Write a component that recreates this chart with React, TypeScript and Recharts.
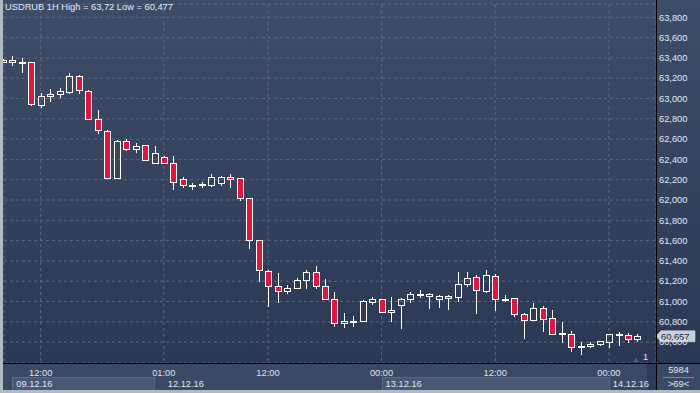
import React from 'react';
import { ComposedChart, Bar, XAxis, YAxis, CartesianGrid, ReferenceLine } from 'recharts';

// ---- data (USDRUB, 1H candles) ----
const opens = [
  63.360, 63.376, 63.355, 63.357, 62.933, 63.022, 63.041, 63.067, 63.222, 63.071,
  62.795, 62.683, 62.214, 62.581, 62.505, 62.539, 62.362, 62.421, 62.362, 62.204,
  62.150, 62.145, 62.151, 62.170, 62.224, 62.214, 62.017, 61.603, 61.297, 61.150,
  61.100, 61.130, 61.209, 61.288, 61.150, 61.022, 60.785, 60.810, 60.808, 60.998,
  61.022, 60.894, 60.963, 61.022, 61.075, 61.058, 61.028, 61.051, 61.041, 61.170,
  61.238, 61.106, 61.251, 61.025, 61.032, 60.874, 60.821, 60.933, 60.834, 60.683,
  60.677, 60.555, 60.559, 60.578, 60.604, 60.677, 60.667, 60.634,
];
const highs = [
  63.385, 63.419, 63.399, 63.362, 63.051, 63.094, 63.103, 63.248, 63.234, 63.084,
  62.887, 62.690, 62.591, 62.601, 62.559, 62.545, 62.532, 62.430, 62.433, 62.224,
  62.170, 62.177, 62.256, 62.236, 62.256, 62.220, 62.020, 61.610, 61.310, 61.281,
  61.163, 61.232, 61.310, 61.350, 61.219, 61.091, 60.887, 60.854, 61.010, 61.044,
  61.028, 61.044, 61.034, 61.094, 61.110, 61.087, 61.067, 61.067, 61.288, 61.288,
  61.258, 61.310, 61.271, 61.061, 61.035, 60.890, 60.988, 60.956, 60.916, 60.798,
  60.709, 60.598, 60.598, 60.610, 60.683, 60.700, 60.687, 60.677,
];
const lows = [
  63.355, 63.323, 63.254, 62.929, 62.909, 62.968, 63.005, 63.047, 63.047, 62.793,
  62.647, 62.210, 62.208, 62.486, 62.466, 62.388, 62.358, 62.358, 62.099, 62.121,
  62.099, 62.118, 62.131, 62.141, 62.121, 61.993, 61.514, 61.189, 60.949, 60.988,
  61.077, 61.125, 61.126, 61.120, 61.015, 60.752, 60.742, 60.752, 60.798, 60.969,
  60.890, 60.801, 60.732, 60.982, 61.037, 60.929, 60.939, 60.916, 60.998, 61.140,
  60.880, 61.081, 60.909, 60.995, 60.851, 60.630, 60.815, 60.700, 60.680, 60.591,
  60.506, 60.473, 60.539, 60.565, 60.542, 60.562, 60.591, 60.604,
];
const closes = [
  63.378, 63.357, 63.360, 62.943, 63.022, 63.044, 63.074, 63.219, 63.081, 62.795,
  62.687, 62.214, 62.581, 62.505, 62.532, 62.391, 62.460, 62.362, 62.174, 62.145,
  62.152, 62.160, 62.224, 62.224, 62.204, 62.023, 61.603, 61.307, 61.150, 61.100,
  61.133, 61.209, 61.288, 61.150, 61.022, 60.785, 60.805, 60.812, 61.002, 61.022,
  60.894, 60.916, 61.022, 61.071, 61.078, 61.071, 61.051, 61.032, 61.170, 61.229,
  61.110, 61.261, 61.022, 61.020, 60.874, 60.821, 60.933, 60.828, 60.683, 60.686,
  60.555, 60.559, 60.581, 60.608, 60.680, 60.680, 60.634, 60.657,
];

const timeTickIdx = [4, 17, 28, 40, 52, 64];
const timeTickLabels = ['12:00', '01:00', '12:00', '00:00', '12:00', '00:00'];
const dateTickIdx = [1, 17, 40, 64];
const dateTickLabels = ['09.12.16', '12.12.16', '13.12.16', '14.12.16'];
const dateBoxEndIdx: (number | null)[] = [16, null, 64, null];
const priceTicks = [
  60.6, 60.8, 61.0, 61.2, 61.4, 61.6, 61.8, 62.0, 62.2,
  62.4, 62.6, 62.8, 63.0, 63.2, 63.4, 63.6, 63.8,
];
const yDomain = [60.394, 63.931];
const titleText = 'USDRUB 1H High = 63,72 Low = 60,477';
const barsTotal = '5984';
const barsVisible = '>69<';
const pageLabel = '1';

const data = opens.map((o, i) => ({
  idx: i,
  open: o,
  high: highs[i],
  low: lows[i],
  close: closes[i],
  range: [lows[i], highs[i]],
}));
const lastClose = closes[closes.length - 1];

const FONT = '"Liberation Sans", Arial, sans-serif';
const FS = 9.3;
const fmt = (v: number) => v.toFixed(3).replace('.', ',');

const Candle = (p: any) => {
  const { x, y, width, height, payload } = p;
  if (!payload || x == null || y == null || height == null) return <g />;
  const { open, close, high, low } = payload;
  const yTop = height >= 0 ? y : y + height;
  const h = Math.abs(height);
  const ppu = h / (high - low);
  const cx = Math.round(x + width / 2) + 0.5;
  const yO = yTop + (high - open) * ppu;
  const yC = yTop + (high - close) * ppu;
  const top = Math.round(Math.min(yO, yC)) + 0.5;
  const bot = Math.max(Math.round(Math.max(yO, yC)) + 0.5, top + 1);
  const bull = close >= open;
  const half = 3;
  return (
    <g shapeRendering="crispEdges">
      <line x1={cx} x2={cx} y1={Math.round(yTop)} y2={top} stroke="#ffffff" strokeWidth={1} />
      <line x1={cx} x2={cx} y1={bot} y2={Math.round(yTop + h)} stroke="#ffffff" strokeWidth={1} />
      <rect
        x={cx - half}
        y={top}
        width={half * 2}
        height={bot - top}
        fill={bull ? 'none' : '#e0163f'}
        stroke="#ffffff"
        strokeWidth={1}
      />
    </g>
  );
};

const TimeTick = (p: any) => {
  const { x, y, payload } = p;
  const k = timeTickIdx.indexOf(payload.value);
  if (k < 0) return <g />;
  return (
    <text x={x} y={y + 12.5} textAnchor="middle" fill="#dfe6f1" fontSize={FS} fontFamily={FONT}>
      {timeTickLabels[k]}
    </text>
  );
};

const DateTick = (p: any) => {
  const { x, y, payload } = p;
  const k = dateTickIdx.indexOf(payload.value);
  if (k < 0) return <g />;
  const band = payload.offset ? payload.offset * 2 : 9.47;
  const end = dateBoxEndIdx[k];
  return (
    <g>
      {end != null && (
        <rect
          x={Math.round(x) + 0.5}
          y={y + 0.5}
          width={Math.round((end - payload.value) * band)}
          height={14}
          fill="#4a5773"
          stroke="#5a6783"
          strokeWidth={1}
        />
      )}
      <text x={x + 4} y={y + 10} textAnchor="start" fill="#dfe6f1" fontSize={FS} fontFamily={FONT}>
        {dateTickLabels[k]}
      </text>
    </g>
  );
};

const PriceLabel = (p: any) => {
  const vb = p.viewBox || {};
  const x0 = (vb.x || 0) + (vb.width || 0);
  const y0 = vb.y || 0;
  const pts = `${x0},${y0} ${x0 + 5},${y0 - 5.5} ${x0 + 39},${y0 - 5.5} ${x0 + 39},${y0 + 5.5} ${x0 + 5},${y0 + 5.5}`;
  return (
    <g>
      <polygon points={pts} fill="#c9ced7" stroke="#e8ebf0" strokeWidth={0.5} />
      <text x={x0 + 5} y={y0 + 3.5} fill="#1f2738" fontSize={FS} fontFamily={FONT}>
        {fmt(lastClose)}
      </text>
    </g>
  );
};

export default function App() {
  return (
    <div
      style={{
        position: 'fixed',
        left: 0,
        top: 0,
        width: 700,
        height: 393,
        overflow: 'hidden',
        background: 'linear-gradient(180deg, #3e4c68 0%, #34425e 50%, #2b3854 92%)',
        fontFamily: FONT,
      }}
    >
      {/* bottom time-axis panel */}
      <div style={{ position: 'absolute', left: 0, top: 363, width: 700, height: 30, background: '#3c4965' }} />
      <div style={{ position: 'absolute', left: 647, top: 364, width: 9, height: 26, background: '#2f3b56' }} />

      <ComposedChart
        width={700}
        height={393}
        data={data}
        margin={{ top: 4, right: 0, bottom: 0, left: 4 }}
        style={{ position: 'absolute', left: 0, top: 0 }}
      >
        <CartesianGrid stroke="#5b6883" strokeDasharray="3 3" />
        <XAxis
          dataKey="idx"
          type="category"
          ticks={timeTickIdx}
          interval={0}
          height={14}
          padding={{ left: -5.94, right: 14 }}
          axisLine={false}
          tickLine={false}
          tickSize={0}
          tickMargin={0}
          tick={<TimeTick />}
        />
        <XAxis
          xAxisId="date"
          dataKey="idx"
          type="category"
          ticks={dateTickIdx}
          interval={0}
          height={16}
          padding={{ left: -5.94, right: 14 }}
          axisLine={false}
          tickLine={false}
          tickSize={0}
          tickMargin={0}
          tick={<DateTick />}
        />
        <YAxis
          orientation="right"
          width={44}
          domain={yDomain}
          allowDataOverflow
          ticks={priceTicks}
          interval={0}
          axisLine={false}
          tickLine={false}
          tickSize={0}
          tickMargin={3}
          tickFormatter={fmt}
          tick={{ fill: '#e0e8f4', fontSize: FS, fontFamily: FONT }}
        />
        <Bar dataKey="range" isAnimationActive={false} shape={(props: any) => <Candle {...props} />} />
        <ReferenceLine y={lastClose} stroke="none" ifOverflow="visible" label={<PriceLabel />} />
      </ComposedChart>

      {/* frame lines */}
      <div style={{ position: 'absolute', left: 656, top: 0, width: 1, height: 390, background: '#000' }} />
      <div style={{ position: 'absolute', left: 0, top: 363, width: 700, height: 1, background: '#000' }} />
      <div style={{ position: 'absolute', left: 0, top: 0, width: 3, height: 393, background: '#b4bac4' }} />
      <div style={{ position: 'absolute', left: 0, top: 390, width: 700, height: 3, background: '#b4bac4' }} />

      {/* texts */}
      <div style={{ position: 'absolute', left: 5, top: 2, fontSize: FS, color: '#e6ecf5', whiteSpace: 'nowrap', lineHeight: '11px' }}>
        {titleText}
      </div>
      <div style={{ position: 'absolute', left: 643, top: 352, fontSize: FS, color: '#e0e6ee', lineHeight: '11px' }}>
        {pageLabel}
      </div>
      <div style={{ position: 'absolute', left: 633, top: 358, width: 0, height: 0, borderLeft: '3.5px solid transparent', borderRight: '3.5px solid transparent', borderBottom: '4px solid #505b70' }} />
      <div style={{ position: 'absolute', left: 657, top: 365, width: 43, textAlign: 'center', fontSize: FS, color: '#dfe6f1', lineHeight: '11px' }}>
        {barsTotal}
      </div>
      <div style={{ position: 'absolute', left: 663, top: 377, width: 31, height: 1, background: '#7e889b' }} />
      <div style={{ position: 'absolute', left: 657, top: 379, width: 43, textAlign: 'center', fontSize: FS, color: '#dfe6f1', lineHeight: '11px' }}>
        {barsVisible}
      </div>
    </div>
  );
}
